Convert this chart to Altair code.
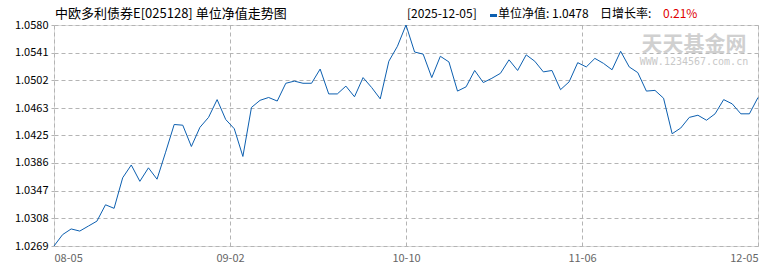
import altair as alt
import pandas as pd

# NAV values (83 trading days, 08-05 .. 12-05)
nav = [
    1.0269, 1.0285, 1.0293, 1.0290, 1.0297, 1.0304, 1.0327, 1.0322, 1.0365, 1.0383,
    1.0360, 1.0379, 1.0363, 1.0401, 1.0440, 1.0439, 1.0409, 1.0436, 1.0450, 1.0475,
    1.0447, 1.0434, 1.0395, 1.0464, 1.0474, 1.0478, 1.0473, 1.0498, 1.0501, 1.0498,
    1.0498, 1.0518, 1.0483, 1.0483, 1.0494, 1.0479, 1.0506, 1.0492, 1.0476, 1.0529,
    1.0550, 1.0580, 1.0542, 1.0539, 1.0506, 1.0536, 1.0528, 1.0487, 1.0493, 1.0516,
    1.0499, 1.0505, 1.0512, 1.0531, 1.0516, 1.0538, 1.0529, 1.0514, 1.0516, 1.0489,
    1.0500, 1.0527, 1.0521, 1.0533, 1.0526, 1.0517, 1.0543, 1.0521, 1.0513, 1.0487,
    1.0488, 1.0477, 1.0427, 1.0435, 1.0450, 1.0453, 1.0446, 1.0455, 1.0475, 1.0469,
    1.0455, 1.0455, 1.0478,
]
x_tick_labels = ["08-05", "09-02", "10-10", "11-06", "12-05"]
y_tick_labels = [1.0269, 1.0308, 1.0347, 1.0386, 1.0425, 1.0463, 1.0502, 1.0541, 1.0580]

title_text = "中欧多利债券E[025128] 单位净值走势图"
date_text = "[2025-12-05]"
nav_text = "单位净值: 1.0478"
growth_label = "日增长率:"
growth_value = "0.21%"

n = len(nav)
df = pd.DataFrame({"i": list(range(n)), "nav": nav})
step = (n - 1) / 4
x_ticks = [k * step for k in range(5)]
label_expr = "[" + ",".join(f"'{s}'" for s in x_tick_labels) + f"][round(datum.value / {step})]"

FONT = "Noto Sans CJK SC"
W, H = 704, 221

line = alt.Chart(df).mark_line(color="#0c5fb0", strokeWidth=1).encode(
    x=alt.X("i:Q", scale=alt.Scale(domain=[0, n - 1], nice=False, zero=False),
            axis=alt.Axis(values=x_ticks, labelExpr=label_expr, title=None,
                          grid=True, gridColor="#b4b4b4", gridDash=[4, 3],
                          ticks=False, domain=False, labelFlush=True,
                          labelColor="#666666", labelFont=FONT, labelFontSize=11,
                          labelPadding=6)),
    y=alt.Y("nav:Q", scale=alt.Scale(domain=[y_tick_labels[0], y_tick_labels[-1]],
                                     nice=False, zero=False),
            axis=alt.Axis(values=y_tick_labels, format=".4f", title=None,
                          grid=True, gridColor="#b4b4b4", gridDash=[4, 3],
                          ticks=True, tickSize=3, tickColor="#b4b4b4",
                          domain=False, labelColor="#000000", labelFont=FONT,
                          labelFontSize=11, labelPadding=3)),
)

def txt(s, x, y, color="#000000", size=12, align="left", font=FONT, weight="normal"):
    return alt.Chart(pd.DataFrame({"t": [s]})).mark_text(
        align=align, baseline="middle", font=font, fontSize=size, color=color,
        fontWeight=weight,
    ).encode(text="t:N", x=alt.value(x), y=alt.value(y))

title = txt(title_text, 1, -11, size=13)
date_t = txt(date_text, 353, -11)
nav_t = txt(nav_text, 444, -11)
gl_t = txt(growth_label, 546, -11)
gv_t = txt(growth_value, 609, -11, color="#e00000")
marker = alt.Chart(pd.DataFrame({"t": [1]})).mark_rect(color="#0c5fb0").encode(
    x=alt.value(436), x2=alt.value(443), y=alt.value(-11), y2=alt.value(-8))

wm1 = txt("天天基金网", 640, 20, color="#d0d0d0", size=21, align="center", weight="bold")
wm2 = txt("WWW.1234567.com.cn", 640, 37, color="#c8c8c8", size=10, align="center",
          font="DejaVu Sans Mono")

chart = alt.layer(wm1, wm2, line, title, date_t, marker, nav_t, gl_t, gv_t).properties(
    width=W, height=H,
    autosize=alt.AutoSizeParams(type="none"),
    padding={"left": 54, "top": 25, "right": 12, "bottom": 24},
).configure_view(stroke="#c0c0c0", strokeWidth=1).configure(background="white")

chart.save("out.html", embed_options={"renderer": "svg", "actions": False})
